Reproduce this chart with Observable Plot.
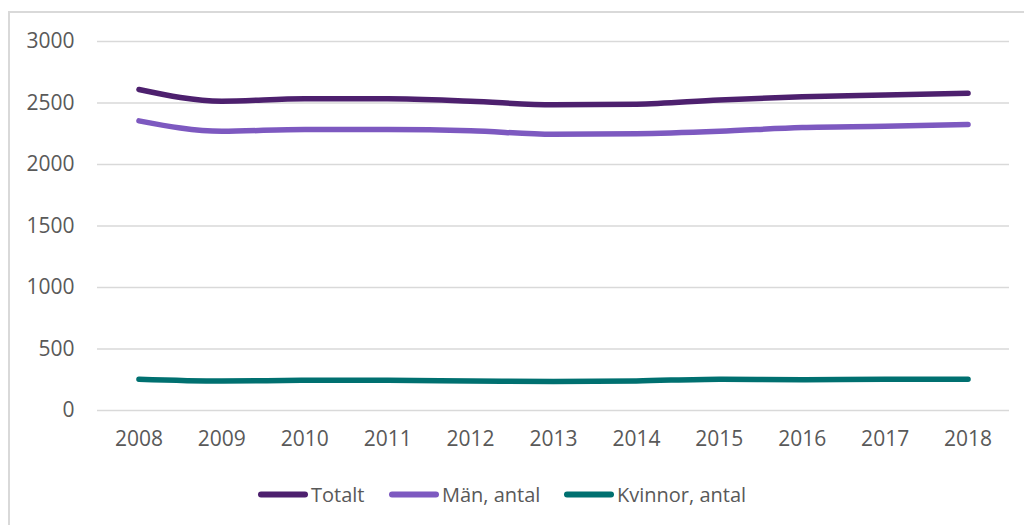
<!DOCTYPE html>
<html>
<head>
<meta charset="utf-8">
<script src="https://cdn.jsdelivr.net/npm/d3@7"></script>
<script src="https://cdn.jsdelivr.net/npm/@observablehq/plot@0.6"></script>
<style>
  html, body { margin: 0; padding: 0; background: #fff; width: 1024px; height: 525px; overflow: hidden; }
  #frame { position: absolute; left: 8px; top: 11px; width: 1100px; height: 600px; border: 2px solid #d9d9d9; box-sizing: border-box; pointer-events: none; }
  #chart { position: absolute; left: 0; top: 0; }
  #legend { position: absolute; left: 0; top: 460px; width: 1024px; height: 60px; font-family: "Open Sans", sans-serif; font-size: 20px; color: #595959; }
  .item { position: absolute; top: 34px; display: flex; align-items: center; transform: translateY(-50%); white-space: nowrap; }
  .sw { width: 50px; height: 6px; border-radius: 3px; margin-right: 3px; }
</style>
</head>
<body>
<div id="frame"></div>
<div id="chart"></div>
<div id="legend"></div>
<script>
const years = ["2008","2009","2010","2011","2012","2013","2014","2015","2016","2017","2018"];
const totalt  = [2610, 2515, 2535, 2535, 2515, 2485, 2490, 2525, 2550, 2565, 2580];
const man     = [2355, 2270, 2285, 2285, 2275, 2245, 2250, 2270, 2300, 2310, 2325];
const kvinnor = [255, 240, 245, 245, 240, 235, 240, 255, 250, 255, 255];
const seriesNames = ["Totalt", "Män, antal", "Kvinnor, antal"];
const seriesColors = ["#4d206e", "#7d59c0", "#007070"];
const yTicks = [0, 500, 1000, 1500, 2000, 2500, 3000];

const seriesValues = [totalt, man, kvinnor];
const data = [];
seriesNames.forEach((name, i) => {
  years.forEach((yr, j) => data.push({ series: name, year: yr, value: seriesValues[i][j] }));
});

const plot = Plot.plot({
  width: 1024,
  height: 460,
  marginLeft: 97,
  marginRight: 15,
  marginTop: 41,
  marginBottom: 50,
  style: { fontFamily: "'Open Sans', sans-serif", fontSize: "21px", color: "#595959", background: "transparent", overflow: "visible" },
  x: { type: "point", domain: years, padding: 0.5, round: false, label: null },
  y: { domain: [0, 3000], label: null },
  color: { domain: seriesNames, range: seriesColors },
  marks: [
    Plot.ruleY(yTicks, { stroke: "#d9d9d9", strokeWidth: 1.5 }),
    Plot.axisY({ ticks: yTicks, tickFormat: d => String(d), tickSize: 0, tickPadding: 23, label: null, fontSize: 21, fill: "#595959" }),
    Plot.axisX({ tickSize: 0, tickPadding: 21, label: null, fontSize: 21, fill: "#595959" }),
    Plot.line(data, { x: "year", y: "value", z: "series", stroke: "series", strokeWidth: 5.5, curve: "monotone-x", strokeLinecap: "round", strokeLinejoin: "round" })
  ]
});
document.getElementById("chart").appendChild(plot);

const legend = document.getElementById("legend");
const positions = [258, 389, 564];
seriesNames.forEach((name, i) => {
  const item = document.createElement("div");
  item.className = "item";
  item.style.left = positions[i] + "px";
  const sw = document.createElement("div");
  sw.className = "sw";
  sw.style.background = seriesColors[i];
  const t = document.createElement("span");
  t.textContent = name;
  item.appendChild(sw);
  item.appendChild(t);
  legend.appendChild(item);
});
</script>
</body>
</html>
